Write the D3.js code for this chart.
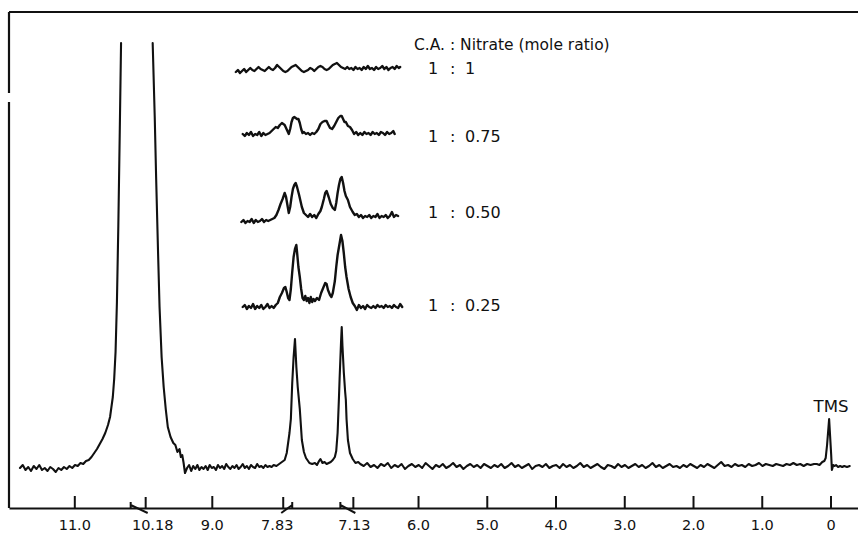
<!DOCTYPE html>
<html>
<head>
<meta charset="utf-8">
<script src="https://cdn.jsdelivr.net/npm/d3@7"></script>
<style>
body { margin: 0; background: #fff; }
svg { display: block; }
.trace { fill: none; stroke: #111; stroke-width: 2.1; stroke-linejoin: round; stroke-linecap: round; }
.inset { stroke-width: 2.4; }
.frame { fill: none; stroke: #111; stroke-width: 2.2; }
text { font-family: "DejaVu Sans", sans-serif; fill: #111; }
</style>
</head>
<body>
<script>
// chemical shift (ppm) vs. signal height
const leftNoise = [[11.79,-1],[11.75,2],[11.71,-3],[11.67,0],[11.63,-4],[11.59,1],[11.55,-2],[11.51,2],[11.47,-3],[11.43,-1],[11.39,-4],[11.35,0],[11.31,-2],[11.27,-5],[11.23,-1],[11.19,-3],[11.15,0],[11.11,-2],[11.07,1],[11.03,-1],[10.99,2]];

// big acid peak runs off the top of the paper (null = pen off chart)
const acidPeak = [[10.95,1],[10.91,4],[10.87,3],[10.83,6],[10.79,7],[10.75,10],[10.71,14],[10.67,18],[10.63,23],[10.59,28],[10.55,34],[10.51,42],[10.48,50],[10.46,60],[10.44,70],[10.42,88],[10.40,115],[10.38,165],[10.36,240],[10.34,330],[10.32,424],[10.09,null],[9.86,424],[9.83,350],[9.81,290],[9.78,210],[9.76,160],[9.73,110],[9.70,80],[9.67,58],[9.64,40],[9.60,30],[9.56,24],[9.53,22],[9.50,15],[9.47,18],[9.45,10],[9.43,12],[9.41,4]];

const midNoise = [[9.39,-6],[9.36,-1],[9.33,2],[9.30,-4],[9.27,1],[9.24,-2],[9.21,2],[9.18,-3],[9.15,0],[9.12,-2],[9.09,1],[9.06,-3],[9.03,2],[9.00,-1],[8.97,0],[8.94,-3],[8.91,2],[8.88,-1],[8.85,1],[8.82,-2],[8.79,3],[8.76,0],[8.73,-2],[8.70,1],[8.67,-1],[8.64,2],[8.61,-2],[8.58,0],[8.55,3],[8.52,-1],[8.49,1],[8.46,-2],[8.43,2],[8.40,0],[8.37,-1],[8.34,3],[8.31,0],[8.28,1],[8.25,-1],[8.22,2],[8.19,0],[8.16,1],[8.13,0],[8.10,2]];

const aromaticPeaks = [[8.06,1],[8.02,3],[7.98,5],[7.94,7],[7.91,14],[7.87,34],[7.85,48],[7.83,84],[7.81,110],[7.79,128],[7.77,100],[7.75,80],[7.72,58],[7.69,27],[7.66,15],[7.63,9],[7.58,4],[7.54,3],[7.50,4],[7.47,2],[7.44,6],[7.42,8],[7.39,4],[7.36,5],[7.33,3],[7.30,4],[7.27,5],[7.24,7],[7.21,10],[7.19,16],[7.17,34],[7.15,70],[7.14,90],[7.12,125],[7.11,140],[7.10,122],[7.08,95],[7.06,75],[7.05,67],[7.04,48],[7.02,27],[6.99,14],[6.95,8],[6.91,4],[6.87,5]];

const rightNoise = [[6.84,3],[6.79,1],[6.74,4],[6.69,0],[6.64,2],[6.59,-1],[6.54,3],[6.49,1],[6.44,4],[6.39,-1],[6.34,2],[6.29,0],[6.24,3],[6.19,-2],[6.14,1],[6.09,3],[6.04,0],[5.99,2],[5.94,-1],[5.89,4],[5.84,1],[5.79,-2],[5.74,2],[5.69,0],[5.64,3],[5.59,-1],[5.54,1],[5.49,4],[5.44,0],[5.39,2],[5.34,-2],[5.29,1],[5.24,3],[5.19,0],[5.14,2],[5.09,-1],[5.04,3],[4.99,1],[4.94,-1],[4.89,2],[4.84,0],[4.79,3],[4.74,-1],[4.69,1],[4.64,4],[4.59,0],[4.54,2],[4.49,-1],[4.44,1],[4.39,3],[4.34,-2],[4.29,1],[4.24,2],[4.19,0],[4.14,3],[4.09,-1],[4.04,1],[3.99,2],[3.94,-1],[3.89,3],[3.84,0],[3.79,2],[3.74,-1],[3.69,1],[3.64,4],[3.59,0],[3.54,2],[3.49,-1],[3.44,1],[3.39,3],[3.34,0],[3.29,-2],[3.24,2],[3.19,1],[3.14,-1],[3.09,3],[3.04,0],[2.99,2],[2.94,-1],[2.89,1],[2.84,3],[2.79,0],[2.74,2],[2.69,-1],[2.64,1],[2.59,4],[2.54,0],[2.49,2],[2.44,-1],[2.39,1],[2.34,3],[2.29,0],[2.24,1],[2.19,-1],[2.14,2],[2.09,0],[2.04,3],[1.99,1],[1.94,-1],[1.89,2],[1.84,0],[1.79,3],[1.74,1],[1.69,-1],[1.64,2],[1.59,5],[1.54,1],[1.49,2],[1.44,0],[1.39,3],[1.34,1],[1.29,2],[1.24,0],[1.19,3],[1.14,1],[1.09,2],[1.04,4],[0.99,1],[0.94,3],[0.89,2],[0.84,1],[0.79,3],[0.74,2],[0.69,1],[0.64,3],[0.59,2],[0.54,4],[0.49,2],[0.44,3],[0.39,1],[0.34,3],[0.29,2],[0.24,3]];

const tmsPeak = [[0.20,3],[0.16,2],[0.12,5],[0.09,6],[0.07,9],[0.05,22],[0.035,35],[0.02,48],[0.005,30],[-0.01,12],[-0.02,-3],[-0.04,2],[-0.06,1],[-0.08,2],[-0.11,0],[-0.14,1],[-0.17,0],[-0.20,1],[-0.24,0],[-0.28,1]];

// inset traces, aromatic region at each C.A. : nitrate ratio
const ratioCA = ["1", "1", "1", "1"];
const ratioNitrate = ["1", "0.75", "0.50", "0.25"];

const trace100 = [[8.65,-2],[8.62,0],[8.59,-3],[8.56,-1],[8.53,1],[8.50,-2],[8.47,0],[8.44,2],[8.41,0],[8.38,-1],[8.35,1],[8.32,3],[8.29,1],[8.26,0],[8.23,-1],[8.20,1],[8.17,3],[8.14,1],[8.11,0],[8.08,2],[8.05,5],[8.02,3],[7.99,1],[7.96,-1],[7.93,-2],[7.90,-1],[7.87,1],[7.84,3],[7.81,4],[7.78,5],[7.75,3],[7.72,1],[7.69,-1],[7.66,-2],[7.63,-1],[7.60,0],[7.57,2],[7.54,1],[7.51,-1],[7.48,1],[7.45,3],[7.42,4],[7.39,3],[7.36,1],[7.33,0],[7.30,1],[7.27,3],[7.24,5],[7.21,6],[7.18,7],[7.15,5],[7.12,3],[7.09,2],[7.06,1],[7.03,3],[7.00,1],[6.97,2],[6.94,0],[6.91,3],[6.88,1],[6.85,2],[6.82,0],[6.79,3],[6.76,1],[6.73,4],[6.70,1],[6.67,2],[6.64,0],[6.61,3],[6.58,1],[6.55,2],[6.52,4],[6.49,1],[6.46,3],[6.43,0],[6.40,2],[6.37,3],[6.34,1],[6.31,4],[6.28,2],[6.26,3]];

const trace075 = [[8.55,0],[8.52,-2],[8.49,1],[8.46,-1],[8.43,2],[8.40,-2],[8.37,0],[8.34,-1],[8.31,2],[8.28,-2],[8.25,1],[8.22,-1],[8.19,0],[8.16,1],[8.13,3],[8.10,5],[8.07,7],[8.04,6],[8.01,9],[7.98,11],[7.96,10],[7.94,9],[7.92,6],[7.90,3],[7.88,0],[7.86,5],[7.84,12],[7.82,16],[7.80,17],[7.78,16],[7.76,15],[7.74,15],[7.72,11],[7.70,5],[7.68,1],[7.66,2],[7.63,0],[7.60,1],[7.57,-1],[7.54,1],[7.51,0],[7.48,2],[7.45,5],[7.42,10],[7.39,12],[7.36,13],[7.33,13],[7.31,10],[7.28,6],[7.25,5],[7.22,8],[7.19,12],[7.16,16],[7.13,18],[7.11,18],[7.09,15],[7.07,12],[7.05,12],[7.02,8],[6.99,7],[6.96,4],[6.93,0],[6.90,2],[6.87,-1],[6.84,1],[6.81,-1],[6.78,2],[6.75,0],[6.72,1],[6.69,-1],[6.66,2],[6.63,0],[6.60,1],[6.57,-1],[6.54,2],[6.51,1],[6.48,-1],[6.45,2],[6.42,0],[6.39,1],[6.36,3],[6.34,0]];

const trace050 = [[8.57,-3],[8.54,-1],[8.51,-4],[8.48,-2],[8.45,-3],[8.42,0],[8.39,-4],[8.36,-1],[8.33,-3],[8.30,-2],[8.27,0],[8.24,-3],[8.21,-1],[8.18,-2],[8.15,-1],[8.12,0],[8.09,1],[8.06,4],[8.03,9],[8.00,15],[7.97,20],[7.94,26],[7.92,22],[7.90,14],[7.88,6],[7.86,12],[7.84,22],[7.82,30],[7.80,34],[7.78,36],[7.76,32],[7.73,24],[7.71,18],[7.69,12],[7.66,6],[7.63,4],[7.60,2],[7.57,5],[7.54,2],[7.51,4],[7.48,1],[7.45,5],[7.42,8],[7.40,12],[7.37,20],[7.35,26],[7.33,28],[7.30,22],[7.27,15],[7.24,11],[7.21,9],[7.19,16],[7.17,26],[7.15,34],[7.13,40],[7.11,42],[7.09,36],[7.07,28],[7.05,23],[7.02,19],[6.99,12],[6.95,7],[6.92,4],[6.89,5],[6.86,2],[6.83,4],[6.80,1],[6.77,3],[6.74,2],[6.71,4],[6.68,1],[6.65,3],[6.62,2],[6.59,5],[6.56,1],[6.53,3],[6.50,2],[6.47,4],[6.44,1],[6.41,3],[6.38,7],[6.35,2],[6.32,4],[6.29,3]];

const trace025 = [[8.55,0],[8.52,2],[8.49,-2],[8.46,1],[8.43,-1],[8.40,3],[8.37,-2],[8.34,1],[8.31,-1],[8.28,2],[8.25,-2],[8.22,0],[8.19,3],[8.16,-1],[8.13,1],[8.10,-1],[8.07,2],[8.04,4],[8.01,10],[7.98,14],[7.95,19],[7.93,20],[7.91,15],[7.89,9],[7.87,7],[7.85,18],[7.83,35],[7.81,50],[7.79,58],[7.77,62],[7.76,55],[7.74,40],[7.72,30],[7.70,18],[7.68,9],[7.66,7],[7.64,11],[7.62,6],[7.60,9],[7.58,4],[7.56,10],[7.54,5],[7.52,8],[7.50,6],[7.47,9],[7.44,7],[7.41,14],[7.38,19],[7.35,24],[7.33,23],[7.31,17],[7.28,12],[7.26,10],[7.24,14],[7.21,26],[7.19,40],[7.17,52],[7.14,64],[7.12,72],[7.10,66],[7.08,54],[7.06,40],[7.04,30],[7.01,18],[6.98,10],[6.95,4],[6.92,1],[6.89,-3],[6.86,2],[6.83,-1],[6.80,1],[6.77,-2],[6.74,2],[6.71,0],[6.68,-1],[6.65,1],[6.62,-1],[6.59,2],[6.56,0],[6.53,1],[6.50,-1],[6.47,2],[6.44,0],[6.41,1],[6.38,-1],[6.35,2],[6.32,0],[6.29,-1],[6.26,3],[6.23,0]];

// axis
const tickValues = [11.0, 9.0, 6.0, 5.0, 4.0, 3.0, 2.0, 1.0, 0];
const tickLabels = ["11.0", "9.0", "6.0", "5.0", "4.0", "3.0", "2.0", "1.0", "0"];
const peakShifts = [10.18, 7.83, 7.13];
const peakShiftLabels = ["10.18", "7.83", "7.13"];

window.onload = drawSpectrum;

function drawSpectrum() {
    const width = 858;
    const height = 533;

    const svg = d3.select("body").append("svg")
        .attr("width", width)
        .attr("height", height);

    const x = d3.scaleLinear().domain([11.95, -0.4]).range([9, 858]); // ppm runs right to left
    const y = d3.scaleLinear().domain([0, 424]).range([467, 43]);

    // frame: top rule and left rule (with the small break in the scan)
    svg.append("path").attr("class", "frame")
        .attr("d", "M9,12H858");
    svg.append("path").attr("class", "frame")
        .attr("d", "M9,12V93M9,102V508");

    // main spectrum
    const mainData = [].concat(leftNoise, acidPeak, midNoise, aromaticPeaks, rightNoise, tmsPeak);
    const line = d3.line()
        .defined(d => d[1] !== null)
        .x(d => x(d[0]))
        .y(d => y(d[1]));

    svg.append("path")
        .datum(mainData)
        .attr("class", "trace")
        .attr("d", line);

    // inset traces share the ppm scale, each on its own baseline
    const insetTraces = [trace100, trace075, trace050, trace025];
    const insetBase = [70, 134, 219, 307];
    const labelBase = [74, 142, 218, 311];

    insetTraces.forEach((tr, i) => {
        const yi = d3.scaleLinear().domain([0, 424]).range([insetBase[i], insetBase[i] - 424]);
        svg.append("path")
            .datum(tr)
            .attr("class", "trace inset")
            .attr("d", d3.line().x(d => x(d[0])).y(d => yi(d[1])));

        const lbl = svg.append("text")
            .attr("y", labelBase[i])
            .attr("font-size", 16);
        lbl.append("tspan").attr("x", 428).text(ratioCA[i]);
        lbl.append("tspan").attr("x", 450).text(":");
        lbl.append("tspan").attr("x", 465).text(ratioNitrate[i]);
    });

    svg.append("text")
        .attr("x", 414)
        .attr("y", 50)
        .attr("font-family", "Liberation Sans, Arial, sans-serif")
        .attr("font-size", 15.5)
        .text("C.A. : Nitrate (mole ratio)");

    svg.append("text")
        .attr("x", x(0) + 0.5)
        .attr("y", 412)
        .attr("text-anchor", "middle")
        .attr("font-size", 15)
        .attr("textLength", 35)
        .attr("lengthAdjust", "spacingAndGlyphs")
        .text("TMS");

    // bottom axis, ticks pointing up
    const axis = d3.axisBottom(x)
        .tickValues(tickValues)
        .tickFormat((d, i) => tickLabels[i])
        .tickSizeInner(-12)
        .tickSizeOuter(0)
        .tickPadding(12);

    const gAxis = svg.append("g")
        .attr("transform", "translate(0,508)")
        .call(axis);
    gAxis.select(".domain").attr("stroke", "#111").attr("stroke-width", 2.2);
    gAxis.selectAll(".tick line").attr("stroke", "#111").attr("stroke-width", 2);
    gAxis.selectAll(".tick text")
        .attr("font-family", "DejaVu Sans, sans-serif")
        .attr("font-size", 14.5)
        .attr("fill", "#111");

    // shifted peak labels: short tick at the true shift, bracket to the label tick
    const tickOffset = [15, -9, 13];
    const textOffset = [22, -15, 14];
    const gShift = svg.append("g").attr("transform", "translate(0,508)");
    peakShifts.forEach((v, i) => {
        const xv = x(v);
        const xt = xv + tickOffset[i];
        gShift.append("path")
            .attr("fill", "none")
            .attr("stroke", "#111")
            .attr("stroke-width", 2)
            .attr("d", `M${xt},0V-11M${xv},0V-6M${xv},-3L${xt + (tickOffset[i] > 0 ? 2 : -2)},5`);
        gShift.append("text")
            .attr("x", xv + textOffset[i])
            .attr("y", 12)
            .attr("dy", "0.71em")
            .attr("text-anchor", "middle")
            .attr("font-size", 14.5)
            .text(peakShiftLabels[i]);
    });
}
</script>
</body>
</html>
